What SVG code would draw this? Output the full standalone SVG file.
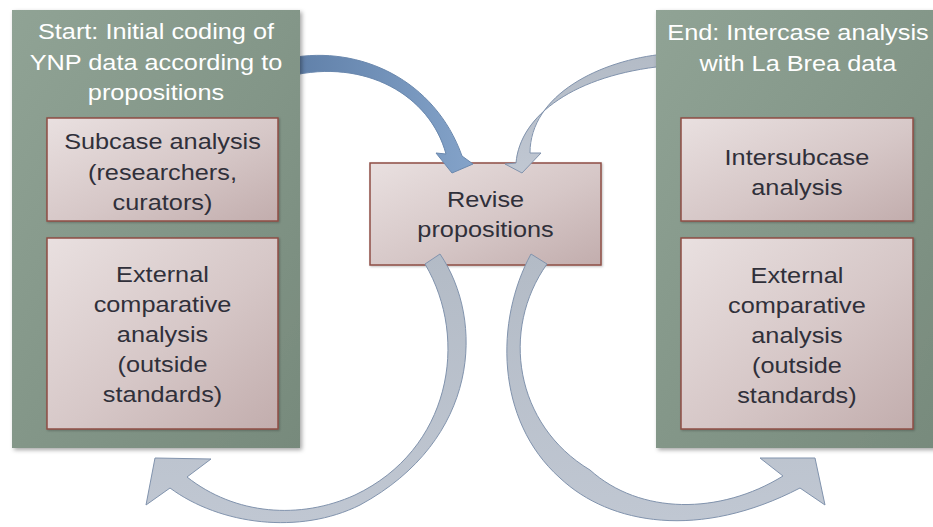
<svg xmlns="http://www.w3.org/2000/svg" width="933" height="527" viewBox="0 0 933 527">
  <defs>
    <linearGradient id="gGreen" x1="0" y1="0" x2="1" y2="1">
      <stop offset="0" stop-color="#90a395"/>
      <stop offset="1" stop-color="#778a7c"/>
    </linearGradient>
    <linearGradient id="gPink" x1="0" y1="0" x2="1" y2="1">
      <stop offset="0" stop-color="#e9e0e0"/>
      <stop offset="0.55" stop-color="#d6c7c7"/>
      <stop offset="1" stop-color="#c2adad"/>
    </linearGradient>
    <linearGradient id="gBlue" x1="0" y1="0" x2="1" y2="0">
      <stop offset="0" stop-color="#5f7fa8"/>
      <stop offset="1" stop-color="#84a3c9"/>
    </linearGradient>
    <linearGradient id="gGrey" x1="0" y1="0" x2="0" y2="1">
      <stop offset="0" stop-color="#b3bbc6"/>
      <stop offset="1" stop-color="#c0c7d2"/>
    </linearGradient>
    <filter id="shadow" x="-10%" y="-10%" width="130%" height="130%">
      <feDropShadow dx="2" dy="2" stdDeviation="2" flood-color="#000" flood-opacity="0.35"/>
    </filter>
    <filter id="shadowSm" x="-10%" y="-10%" width="130%" height="130%">
      <feDropShadow dx="1" dy="1" stdDeviation="1" flood-color="#000" flood-opacity="0.25"/>
    </filter>
  </defs>
  <style>
    .outer { fill: url(#gGreen); filter: url(#shadow); }
    .inner { fill: url(#gPink); stroke: #8e4e45; stroke-width: 1.5; filter: url(#shadowSm); }
    .title { font-family: "Liberation Sans", Arial, sans-serif; font-size: 22px; fill: #ffffff; text-anchor: middle; }
    .label { font-family: "Liberation Sans", Arial, sans-serif; font-size: 22px; fill: #30303a; text-anchor: middle; }
    .arrowBlue { fill: url(#gBlue); stroke: #6a88ae; stroke-width: 1; }
    .arrowGrey { fill: url(#gGrey); stroke: #8193ad; stroke-width: 1; }
  </style>
  <rect width="933" height="527" fill="#ffffff"/>

  <!-- central node: revise propositions -->
  <g id="revise">
    <rect class="inner" x="370" y="163" width="231" height="102"/>
    <g transform="scale(1.15,1)">
      <text class="label" x="422.2" y="207">Revise</text>
      <text class="label" x="422.2" y="237">propositions</text>
    </g>
  </g>

  <!-- curved block arrows -->
  <g id="connectors">
    <path class="arrowBlue" d="M 290,58 C 360,45 435,80 462,156 L 473,164 L 452,173 L 436,153 L 446,154 C 430,95 365,58 290,76 Z"/>
    <path class="arrowGrey" d="M 665,54 C 600,60 530,95 530,153 L 541,153 L 522,173 L 505,164 L 516,163 C 520,115 575,75 665,66 Z"/>
    <path class="arrowGrey" d="M 440,254 C 485,320 480,440 360,505 C 300,535 220,525 170,488 L 146,505 L 155,458 L 211,459 L 187,477 C 235,515 300,520 355,495 C 450,450 470,340 425,264 Z"/>
    <path class="arrowGrey" d="M 531,254 C 495,320 495,420 560,478 C 610,525 700,540 800,488 L 825,505 L 815,458 L 760,458 L 783,476 C 720,515 640,515 590,470 C 515,425 500,330 547,264 Z"/>
  </g>

  <!-- start node -->
  <g id="start">
    <rect class="outer" x="12" y="10" width="288" height="438"/>
    <g transform="scale(1.15,1)">
      <text class="title" x="135.65" y="39.5">Start: Initial coding of</text>
      <text class="title" x="135.65" y="70">YNP data according to</text>
      <text class="title" x="135.65" y="100">propositions</text>
    </g>
  </g>
  <g id="subcase">
    <rect class="inner" x="47" y="118" width="231" height="103"/>
    <g transform="scale(1.15,1)">
      <text class="label" x="141.3" y="149">Subcase analysis</text>
      <text class="label" x="141.3" y="180">(researchers,</text>
      <text class="label" x="141.3" y="210">curators)</text>
    </g>
  </g>
  <g id="external-left">
    <rect class="inner" x="47" y="238" width="231" height="191"/>
    <g transform="scale(1.15,1)">
      <text class="label" x="141.3" y="282">External</text>
      <text class="label" x="141.3" y="312">comparative</text>
      <text class="label" x="141.3" y="342">analysis</text>
      <text class="label" x="141.3" y="372">(outside</text>
      <text class="label" x="141.3" y="402">standards)</text>
    </g>
  </g>

  <!-- end node -->
  <g id="end">
    <rect class="outer" x="656" y="10" width="288" height="438"/>
    <g transform="scale(1.15,1)">
      <text class="title" x="693.9" y="40">End: Intercase analysis</text>
      <text class="title" x="693.9" y="71">with La Brea data</text>
    </g>
  </g>
  <g id="intersubcase">
    <rect class="inner" x="681" y="118" width="232" height="103"/>
    <g transform="scale(1.15,1)">
      <text class="label" x="693" y="165">Intersubcase</text>
      <text class="label" x="693" y="195">analysis</text>
    </g>
  </g>
  <g id="external-right">
    <rect class="inner" x="681" y="238" width="232" height="191"/>
    <g transform="scale(1.15,1)">
      <text class="label" x="693" y="283">External</text>
      <text class="label" x="693" y="313">comparative</text>
      <text class="label" x="693" y="343">analysis</text>
      <text class="label" x="693" y="373">(outside</text>
      <text class="label" x="693" y="403">standards)</text>
    </g>
  </g>
</svg>
